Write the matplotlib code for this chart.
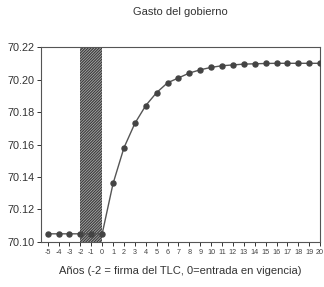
import matplotlib
matplotlib.use("Agg")
import matplotlib.pyplot as plt
import matplotlib.patches as patches

plt.rcParams['font.family'] = ['Liberation Sans', 'DejaVu Sans']
plt.rcParams['hatch.linewidth'] = 0.8

# data
years = list(range(-5, 21))
gasto = [70.105, 70.105, 70.105, 70.105, 70.105, 70.105,
         70.136, 70.158, 70.173, 70.184, 70.192, 70.198, 70.201,
         70.204, 70.206, 70.2075, 70.2085, 70.209, 70.2095, 70.2097,
         70.2099, 70.210, 70.210, 70.210, 70.210, 70.210]
shade_start, shade_end = -2, 0
yticks = [70.10, 70.12, 70.14, 70.16, 70.18, 70.20, 70.22]

fig = plt.figure(figsize=(3.24, 2.87), dpi=100)
ax = fig.add_axes([0.127, 0.157, 0.861, 0.679])

gray = '#555555'
ax.add_patch(patches.Rectangle((shade_start, 70.10), shade_end - shade_start, 0.12,
                               facecolor='#aaaaaa', edgecolor='#3a3a3a',
                               hatch='////////////', linewidth=0, zorder=1))
ax.plot(years, gasto, color=gray, linewidth=1.0, marker='o', markersize=3.6,
        markerfacecolor='#444444', markeredgecolor='#444444', zorder=3)

ax.set_xlim(-5.6, 20)
ax.set_ylim(70.10, 70.22)
ax.set_xticks(years)
ax.set_xticklabels([str(y) for y in years], fontsize=5.2, color='#444444')
ax.set_yticks(yticks)
ax.set_yticklabels([f"{v:.2f}" for v in yticks], fontsize=7.8, color='#333333')
ax.tick_params(axis='x', length=3, width=0.7, color='#333333', pad=2)
ax.tick_params(axis='y', length=3, width=0.7, color='#333333', pad=1.5)
for s in ax.spines.values():
    s.set_color(gray)
    s.set_linewidth(0.8)

ax.set_title("Gasto del gobierno", fontsize=8, color='#333333', pad=23)
ax.set_xlabel("Años (-2 = firma del TLC, 0=entrada en vigencia)", fontsize=8,
              color='#333333', labelpad=7)

fig.savefig("out.png", dpi=100)
